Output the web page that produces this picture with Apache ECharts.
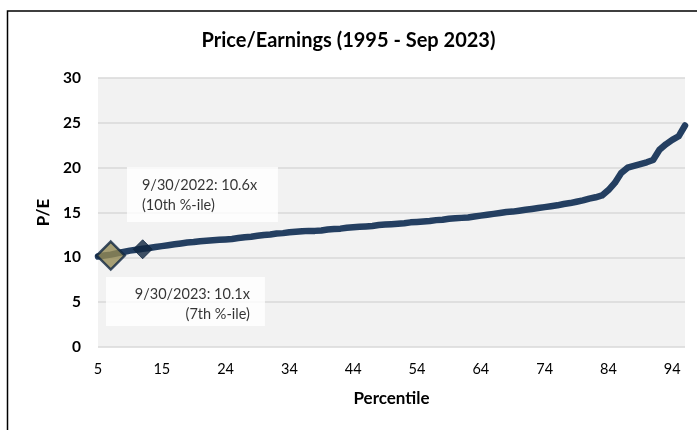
<!DOCTYPE html>
<html>
<head>
<meta charset="utf-8">
<script src="https://cdn.jsdelivr.net/npm/echarts@6/dist/echarts.min.js"></script>
<style>
  html, body { margin: 0; padding: 0; background: #ffffff; }
  #chart { width: 697px; height: 430px; }
</style>
</head>
<body>
<div id="chart"></div>
<script>
// Percentile of each observation (x categories)
const percentiles = [
  '4.6','5.6','6.6','7.6','8.6','9.6','10.5','11.5','12.5','13.5',
  '14.5','15.5','16.5','17.5','18.5','19.4','20.4','21.4','22.4','23.4',
  '24.4','25.4','26.4','27.4','28.4','29.3','30.3','31.3','32.3','33.3',
  '34.3','35.3','36.3','37.3','38.3','39.2','40.2','41.2','42.2','43.2',
  '44.2','45.2','46.2','47.2','48.2','49.1','50.1','51.1','52.1','53.1',
  '54.1','55.1','56.1','57.1','58.1','59.0','60.0','61.0','62.0','63.0',
  '64.0','65.0','66.0','67.0','68.0','68.9','69.9','70.9','71.9','72.9',
  '73.9','74.9','75.9','76.9','77.9','78.8','79.8','80.8','81.8','82.8',
  '83.8','84.8','85.8','86.8','87.8','88.7','89.7','90.7','91.7','92.7',
  '93.7','94.7','95.7'
];
// P/E value at each percentile
const peValues = [
  10.1, 10.2, 10.3, 10.45, 10.6, 10.75, 10.85, 10.95, 11.05, 11.15,
  11.25, 11.35, 11.45, 11.55, 11.65, 11.7, 11.8, 11.85, 11.9, 11.95,
  12.0, 12.05, 12.15, 12.25, 12.3, 12.4, 12.5, 12.55, 12.65, 12.7,
  12.8, 12.85, 12.9, 12.95, 12.95, 13.0, 13.1, 13.15, 13.2, 13.3,
  13.35, 13.4, 13.45, 13.5, 13.6, 13.65, 13.7, 13.75, 13.8, 13.9,
  13.95, 14.0, 14.05, 14.15, 14.2, 14.3, 14.35, 14.4, 14.45, 14.55,
  14.65, 14.75, 14.85, 14.95, 15.05, 15.1, 15.2, 15.3, 15.4, 15.5,
  15.6, 15.7, 15.8, 15.95, 16.05, 16.2, 16.35, 16.55, 16.7, 16.9,
  17.5, 18.3, 19.4, 20.0, 20.2, 20.4, 20.6, 20.85, 22.0, 22.6,
  23.1, 23.5, 24.7
];
// Highlighted observations
const markerIndex = [7, 2];
const markerPE = [10.9, 10.2];
const markerText = ['9/30/2022: 10.6x\n(10th %-ile)', '9/30/2023: 10.1x\n(7th %-ile)'];
const yTicks = [0, 5, 10, 15, 20, 25, 30];

const FONT = 'Lato, "Noto Sans", sans-serif';
const chart = echarts.init(document.getElementById('chart'), null, { renderer: 'canvas' });

chart.setOption({
  animation: false,
  backgroundColor: '#ffffff',
  title: {
    text: 'Price/Earnings (1995 - Sep 2023)',
    left: 'center',
    top: 31,
    padding: 0,
    textStyle: { fontFamily: FONT, fontWeight: 'bold', fontSize: 20, color: '#000' }
  },
  graphic: [{
    type: 'rect',
    silent: true,
    shape: { x: 7.5, y: 11, width: 720, height: 440 },
    style: { fill: 'none', stroke: '#000', lineWidth: 1.5 }
  }],
  grid: {
    left: 98, right: 12, top: 78, bottom: 83,
    show: true, backgroundColor: '#f2f2f2', borderWidth: 0
  },
  xAxis: {
    type: 'category',
    data: percentiles,
    boundaryGap: false,
    name: 'Percentile',
    nameLocation: 'middle',
    nameGap: 43,
    nameTextStyle: { fontFamily: FONT, fontWeight: 'bold', fontSize: 17, color: '#000' },
    axisLine: { show: false },
    axisTick: { show: false },
    axisLabel: {
      interval: 9,
      margin: 15,
      fontFamily: FONT, fontSize: 14.5, color: '#000',
      formatter: v => String(Math.round(Number(v)))
    },
    splitLine: { show: false }
  },
  yAxis: {
    type: 'value',
    min: yTicks[0],
    max: yTicks[yTicks.length - 1],
    interval: yTicks[1] - yTicks[0],
    name: 'P/E',
    nameLocation: 'middle',
    nameGap: 41,
    nameTextStyle: { fontFamily: FONT, fontWeight: 'bold', fontSize: 17, color: '#000' },
    axisLine: { show: false },
    axisTick: { show: false },
    axisLabel: { margin: 17, fontFamily: FONT, fontWeight: 'bold', fontSize: 15.5, color: '#000' },
    splitLine: { lineStyle: { color: '#d9d9d9', width: 1.5 } }
  },
  series: [
    {
      type: 'line',
      data: peValues,
      symbol: 'none',
      lineStyle: { color: '#243f61', width: 6.5, cap: 'round', join: 'round' },
      z: 2
    },
    {
      type: 'scatter',
      data: [[markerIndex[0], markerPE[0]]],
      symbol: 'diamond',
      symbolSize: 19,
      itemStyle: { color: '#0f2540', borderColor: '#0f2540', borderWidth: 1 },
      label: {
        show: true,
        position: 'inside',
        align: 'left',
        verticalAlign: 'top',
        offset: [-15.7, -82.3],
        formatter: markerText[0],
        backgroundColor: '#ffffff',
        padding: [8, 10, 7, 15],
        width: 126,
        lineHeight: 20,
        fontFamily: FONT, fontSize: 14.5, color: '#000'
      },
      z: 4
    },
    {
      type: 'scatter',
      data: [[markerIndex[1], markerPE[1]]],
      symbol: 'diamond',
      symbolSize: 28,
      itemStyle: { color: '#948a54', borderColor: '#0f2540', borderWidth: 2.5 },
      label: {
        show: true,
        position: 'inside',
        align: 'right',
        verticalAlign: 'top',
        offset: [154.2, 21.5],
        formatter: markerText[1],
        backgroundColor: '#ffffff',
        padding: [7, 15, 2, 10],
        width: 134,
        lineHeight: 20,
        fontFamily: FONT, fontSize: 14.5, color: '#000'
      },
      z: 5
    }
  ]
});
</script>
</body>
</html>
